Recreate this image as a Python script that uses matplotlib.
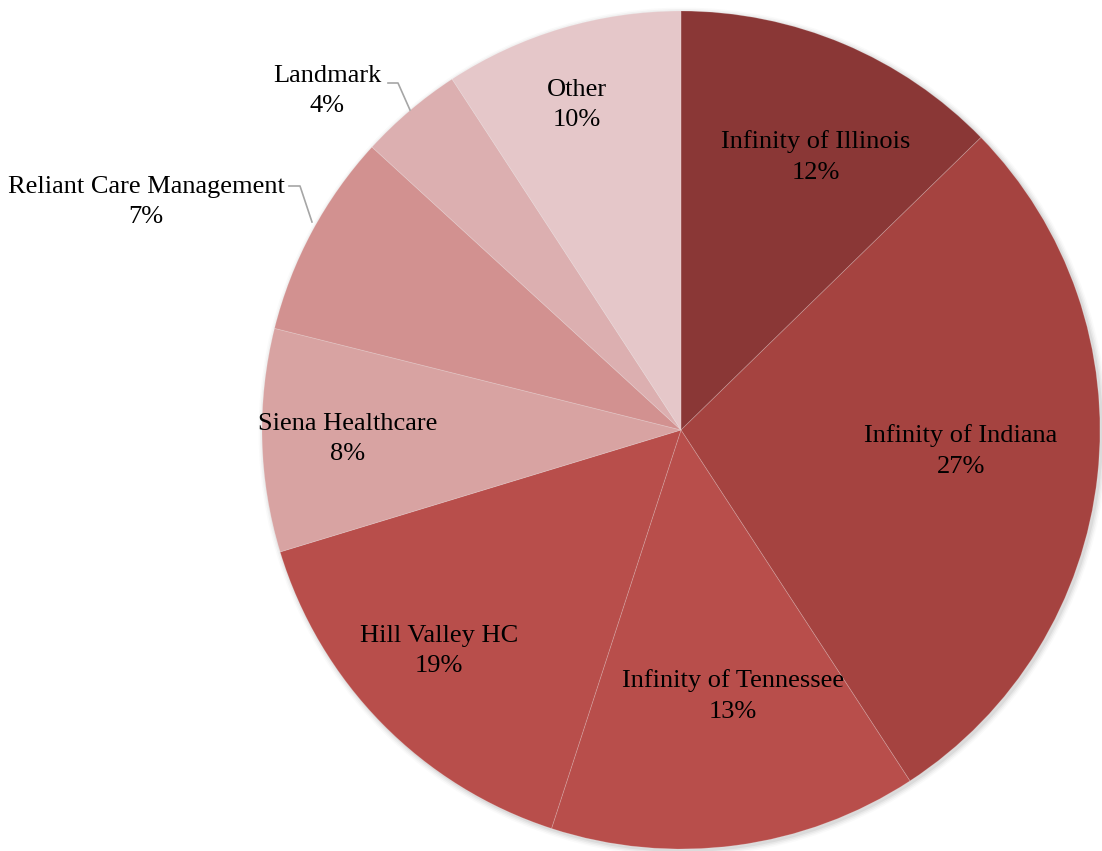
import matplotlib
matplotlib.use("Agg")
import matplotlib.pyplot as plt
from matplotlib.patches import Circle

# Slice shares and the percentages printed on the chart
names = ["Infinity of Illinois", "Infinity of Indiana", "Infinity of Tennessee",
         "Hill Valley HC", "Siena Healthcare", "Reliant Care Management",
         "Landmark", "Other"]
shares = [12.7, 28.1, 14.2, 15.3, 8.6, 7.9, 4.0, 9.2]
pct_text = ["12%", "27%", "13%", "19%", "8%", "7%", "4%", "10%"]
colors = ["#8A3736", "#A54340", "#B84E4B", "#B84E4B",
          "#D8A3A2", "#D29190", "#DCAFB0", "#E5C7C9"]

# label centres in pixel coords (x, y from top)
label_pos = [(816, 157), (961, 451), (733, 696), (439, 651),
             (348, 439), (146, 202), (327, 91), (577, 105)]

W, H = 1102, 851
cx, cy, r = 681, 851 - 430, 419

fig = plt.figure(figsize=(W / 100, H / 100), dpi=100)
ax = fig.add_axes([0, 0, 1, 1])

# soft shadow behind the pie
for i, a in enumerate([0.05, 0.04, 0.03, 0.02]):
    ax.add_patch(Circle((cx + 2, cy - 2), r + 1 + i * 1.5, color="black",
                        alpha=a, lw=0, zorder=0))

ax.pie(shares, colors=colors, startangle=90, counterclock=False,
       center=(cx, cy), radius=r,
       wedgeprops=dict(edgecolor=(1, 1, 1, 0.2), linewidth=0.6))

for name, pct, (x, y) in zip(names, pct_text, label_pos):
    ax.text(x, H - y, f"{name}\n{pct}", ha="center", va="center",
            fontsize=19, family="Liberation Serif", linespacing=1.5,
            color="black", zorder=5)

# leader lines for the two small outer labels
ax.plot([289, 300, 312], [H - 186, H - 186, H - 222], color="#A6A6A6", lw=1.2)
ax.plot([388, 398, 410], [H - 83, H - 83, H - 110], color="#A6A6A6", lw=1.2)

ax.set_xlim(0, W)
ax.set_ylim(0, H)
ax.set_aspect("equal")
ax.axis("off")

fig.savefig("out.png", dpi=100)
